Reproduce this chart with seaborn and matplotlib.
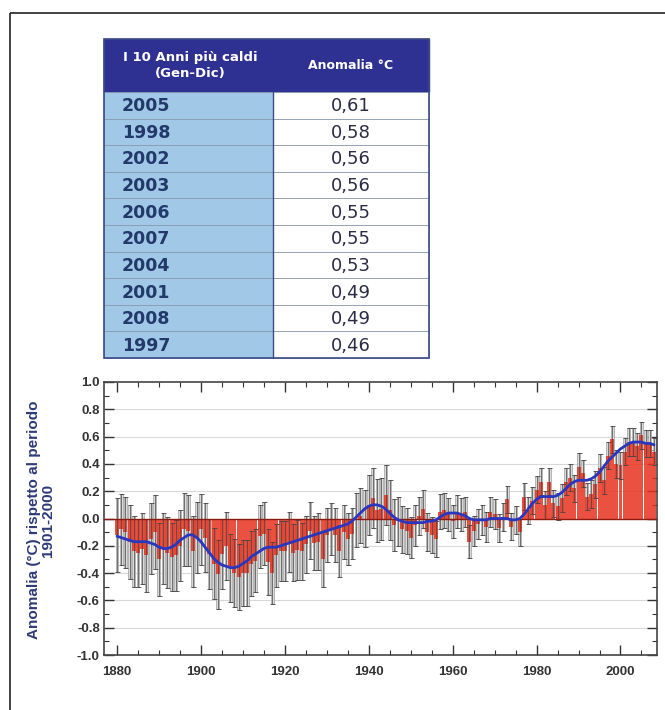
import numpy as np
import pandas as pd
import matplotlib
matplotlib.use("Agg")
import matplotlib.pyplot as plt
from matplotlib.patches import Rectangle
from matplotlib.ticker import MultipleLocator, FormatStrFormatter
import seaborn as sns

# ---------------- data ----------------
table_years = ["2005", "1998", "2002", "2003", "2006", "2007", "2004", "2001", "2008", "1997"]
table_values = ["0,61", "0,58", "0,56", "0,56", "0,55", "0,55", "0,53", "0,49", "0,49", "0,46"]
table_header = ["I 10 Anni più caldi\n(Gen-Dic)", "Anomalia °C"]

years = list(range(1880, 2009))
anomaly = [
    -0.12, -0.08, -0.10, -0.17, -0.24, -0.25, -0.22, -0.27, -0.15, -0.10,
    -0.30, -0.22, -0.25, -0.28, -0.27, -0.20, -0.08, -0.09, -0.24, -0.14,
    -0.08, -0.14, -0.26, -0.33, -0.41, -0.26, -0.20, -0.36, -0.40, -0.43,
    -0.40, -0.40, -0.33, -0.31, -0.13, -0.11, -0.32, -0.40, -0.27, -0.24,
    -0.24, -0.17, -0.25, -0.23, -0.24, -0.19, -0.09, -0.18, -0.17, -0.30,
    -0.12, -0.08, -0.12, -0.24, -0.10, -0.15, -0.11, -0.01, 0.02, 0.00,
    0.10, 0.15, 0.06, 0.07, 0.17, 0.06, -0.05, -0.02, -0.08, -0.09,
    -0.14, -0.05, 0.02, 0.07, -0.10, -0.12, -0.15, 0.05, 0.06, 0.03,
    -0.02, 0.05, 0.03, 0.05, -0.17, -0.09, -0.04, -0.01, -0.06, 0.05,
    0.03, -0.07, 0.01, 0.14, -0.06, -0.01, -0.10, 0.16, 0.06, 0.13,
    0.21, 0.27, 0.10, 0.27, 0.11, 0.09, 0.15, 0.27, 0.30, 0.22,
    0.38, 0.33, 0.16, 0.18, 0.25, 0.37, 0.28, 0.46, 0.58, 0.40,
    0.39, 0.49, 0.56, 0.56, 0.53, 0.61, 0.55, 0.55, 0.49,
]
uncertainty = [
    0.27, 0.26, 0.26, 0.27, 0.26, 0.25, 0.26, 0.27, 0.26, 0.27,
    0.27, 0.26, 0.26, 0.25, 0.26, 0.26, 0.27, 0.26, 0.26, 0.26,
    0.26, 0.25, 0.26, 0.26, 0.25, 0.26, 0.25, 0.25, 0.25, 0.24,
    0.24, 0.24, 0.24, 0.23, 0.23, 0.23, 0.24, 0.23, 0.23, 0.22,
    0.22, 0.22, 0.21, 0.22, 0.21, 0.21, 0.21, 0.20, 0.21, 0.20,
    0.20, 0.19, 0.20, 0.19, 0.20, 0.19, 0.19, 0.20, 0.20, 0.21,
    0.22, 0.22, 0.23, 0.23, 0.22, 0.22, 0.19, 0.18, 0.17, 0.17,
    0.15, 0.15, 0.14, 0.14, 0.14, 0.13, 0.13, 0.13, 0.13, 0.12,
    0.12, 0.12, 0.12, 0.11, 0.12, 0.11, 0.11, 0.11, 0.11, 0.11,
    0.11, 0.10, 0.10, 0.10, 0.10, 0.10, 0.10, 0.10, 0.10, 0.10,
    0.10, 0.10, 0.10, 0.10, 0.10, 0.10, 0.10, 0.10, 0.10, 0.10,
    0.10, 0.10, 0.10, 0.10, 0.10, 0.10, 0.10, 0.10, 0.10, 0.10,
    0.10, 0.10, 0.10, 0.10, 0.10, 0.10, 0.10, 0.10, 0.10,
]
smoothed = [
    -0.13, -0.14, -0.15, -0.16, -0.17, -0.17, -0.17, -0.17, -0.18, -0.19,
    -0.21, -0.22, -0.22, -0.21, -0.19, -0.16, -0.14, -0.12, -0.12, -0.14,
    -0.17, -0.21, -0.25, -0.29, -0.32, -0.34, -0.35, -0.36, -0.36, -0.35,
    -0.33, -0.31, -0.28, -0.26, -0.24, -0.22, -0.21, -0.21, -0.21, -0.20,
    -0.19, -0.18, -0.17, -0.16, -0.15, -0.14, -0.13, -0.12, -0.11, -0.10,
    -0.09, -0.08, -0.07, -0.06, -0.05, -0.04, -0.02, 0.01, 0.04, 0.07,
    0.09, 0.10, 0.10, 0.09, 0.07, 0.04, 0.01, -0.01, -0.02, -0.03,
    -0.03, -0.03, -0.03, -0.03, -0.02, -0.02, -0.01, 0.01, 0.03, 0.04,
    0.04, 0.04, 0.03, 0.02, 0.00, -0.01, -0.01, -0.01, -0.01, 0.00,
    0.00, 0.00, 0.00, 0.00, -0.01, -0.01, 0.00, 0.03, 0.07, 0.11,
    0.14, 0.16, 0.16, 0.16, 0.16, 0.17, 0.19, 0.22, 0.25, 0.27,
    0.28, 0.28, 0.28, 0.29, 0.31, 0.34, 0.38, 0.42, 0.45, 0.48,
    0.51, 0.53, 0.55, 0.56, 0.56, 0.56, 0.55, 0.55, 0.54,
]
y_label = "Anomalia (°C) rispetto al periodo\n1901-2000"

df = pd.DataFrame({"year": years, "anomaly": anomaly,
                   "unc": uncertainty, "smooth": smoothed})

# ---------------- figure ----------------
sns.set_theme(style="white")
plt.rcParams["font.family"] = ["DejaVu Sans"]
W, H = 665, 710
fig = plt.figure(figsize=(W / 100, H / 100), dpi=100)
fig.patch.set_facecolor("white")

# overlay axes in pixel coords for frame + table
ov = fig.add_axes([0, 0, 1, 1], zorder=0)
ov.set_xlim(0, W)
ov.set_ylim(H, 0)
ov.axis("off")
ov.add_patch(Rectangle((10, 13), W + 20, H + 20, fill=False, ec="#222222", lw=1.2))

# table
tx0, tx1, txm = 104, 429, 273
hy0, hy1 = 39, 92
row_h = 26.6
navy = "#2e3192"
ov.add_patch(Rectangle((tx0, hy0), tx1 - tx0, hy1 - hy0, fc=navy, ec=navy, lw=1))
ov.text((tx0 + txm) / 2 + 2, (hy0 + hy1) / 2, table_header[0], color="white",
        fontsize=9.5, fontweight="bold", ha="center", va="center", linespacing=1.25)
ov.text((txm + tx1) / 2, (hy0 + hy1) / 2, table_header[1], color="white",
        fontsize=9, fontweight="bold", ha="center", va="center")
for i, (yr, val) in enumerate(zip(table_years, table_values)):
    ry = hy1 + i * row_h
    ov.add_patch(Rectangle((tx0, ry), txm - tx0, row_h, fc="#a2c8e8", ec="#8a9bb0", lw=0.6))
    ov.add_patch(Rectangle((txm, ry), tx1 - txm, row_h, fc="white", ec="#8a9bb0", lw=0.6))
    ov.text(tx0 + 18, ry + row_h / 2 + 1, yr, color="#22396a", fontsize=12.5,
            fontweight="bold", ha="left", va="center")
    ov.text((txm + tx1) / 2, ry + row_h / 2 + 1, val, color="#2b2b45", fontsize=13,
            ha="center", va="center")
ov.add_patch(Rectangle((tx0, hy0), tx1 - tx0, hy1 - hy0 + 10 * row_h,
                       fill=False, ec="#3a4a8a", lw=1.2))
ov.plot([txm, txm], [hy1, hy1 + 10 * row_h], color="#3a4a8a", lw=1.0)

# main chart
ax = fig.add_axes([104 / W, 1 - 655 / H, 553 / W, 273 / H], zorder=2)
ax.set_facecolor("white")
for yv in [-0.8, -0.6, -0.4, -0.2, 0.2, 0.4, 0.6, 0.8]:
    ax.axhline(yv, color="#d8d8d8", lw=0.8, zorder=0)

grey = ax.bar(df["year"], 2 * df["unc"], bottom=df["anomaly"] - df["unc"], width=0.7,
              color="#d9d9d9", edgecolor="#a0a0a0", linewidth=0.5)
for p in grey:
    p.set_zorder(1)
n_before = len(ax.patches)
sns.barplot(data=df, x="year", y="anomaly", native_scale=True, width=0.95,
            color="#e8321f", saturation=1, ax=ax)
for p in ax.patches[n_before:]:
    p.set_zorder(2)
    p.set_alpha(0.85)
    p.set_edgecolor("none")
ax.errorbar(df["year"], df["anomaly"], yerr=df["unc"], fmt="none",
            ecolor="#444444", elinewidth=0.5, capsize=1.8, capthick=0.6, zorder=3)
ax.axhline(0, color="#8b1a10", lw=1.0, zorder=4)
sns.lineplot(data=df, x="year", y="smooth", color="#2936c0", lw=2.0, ax=ax, zorder=5)

ax.set_xlim(1876.9, 2008.7)
ax.set_ylim(-1.0, 1.0)
ax.xaxis.set_major_locator(MultipleLocator(20))
ax.xaxis.set_minor_locator(MultipleLocator(5))
ax.yaxis.set_major_locator(MultipleLocator(0.2))
ax.yaxis.set_minor_locator(MultipleLocator(0.1))
ax.yaxis.set_major_formatter(FormatStrFormatter("%.1f"))
ax.tick_params(which="both", direction="in", top=True, right=True,
               bottom=True, left=True, color="#333333")
ax.tick_params(which="major", length=7.5, width=1.0)
ax.tick_params(which="minor", length=3.5, width=0.8)
ax.tick_params(axis="x", pad=8)
ax.tick_params(axis="y", pad=3)
for lab in ax.get_xticklabels() + ax.get_yticklabels():
    lab.set_fontfamily(["Liberation Sans", "DejaVu Sans"])
    lab.set_fontweight("bold")
    lab.set_fontsize(9.5)
    lab.set_color("#333333")
for sp in ax.spines.values():
    sp.set_color("#444444")
    sp.set_linewidth(1.2)
ax.set_xlabel("")
ax.set_ylabel("")
fig.text(41 / W, 1 - 520 / H, y_label, rotation=90, ha="center", va="center",
         fontsize=11, fontweight="bold", color="#2d3b78",
         family=["Liberation Sans Narrow", "Liberation Sans", "DejaVu Sans"],
         linespacing=1.05)

fig.savefig("out.png", dpi=100, facecolor="white")
